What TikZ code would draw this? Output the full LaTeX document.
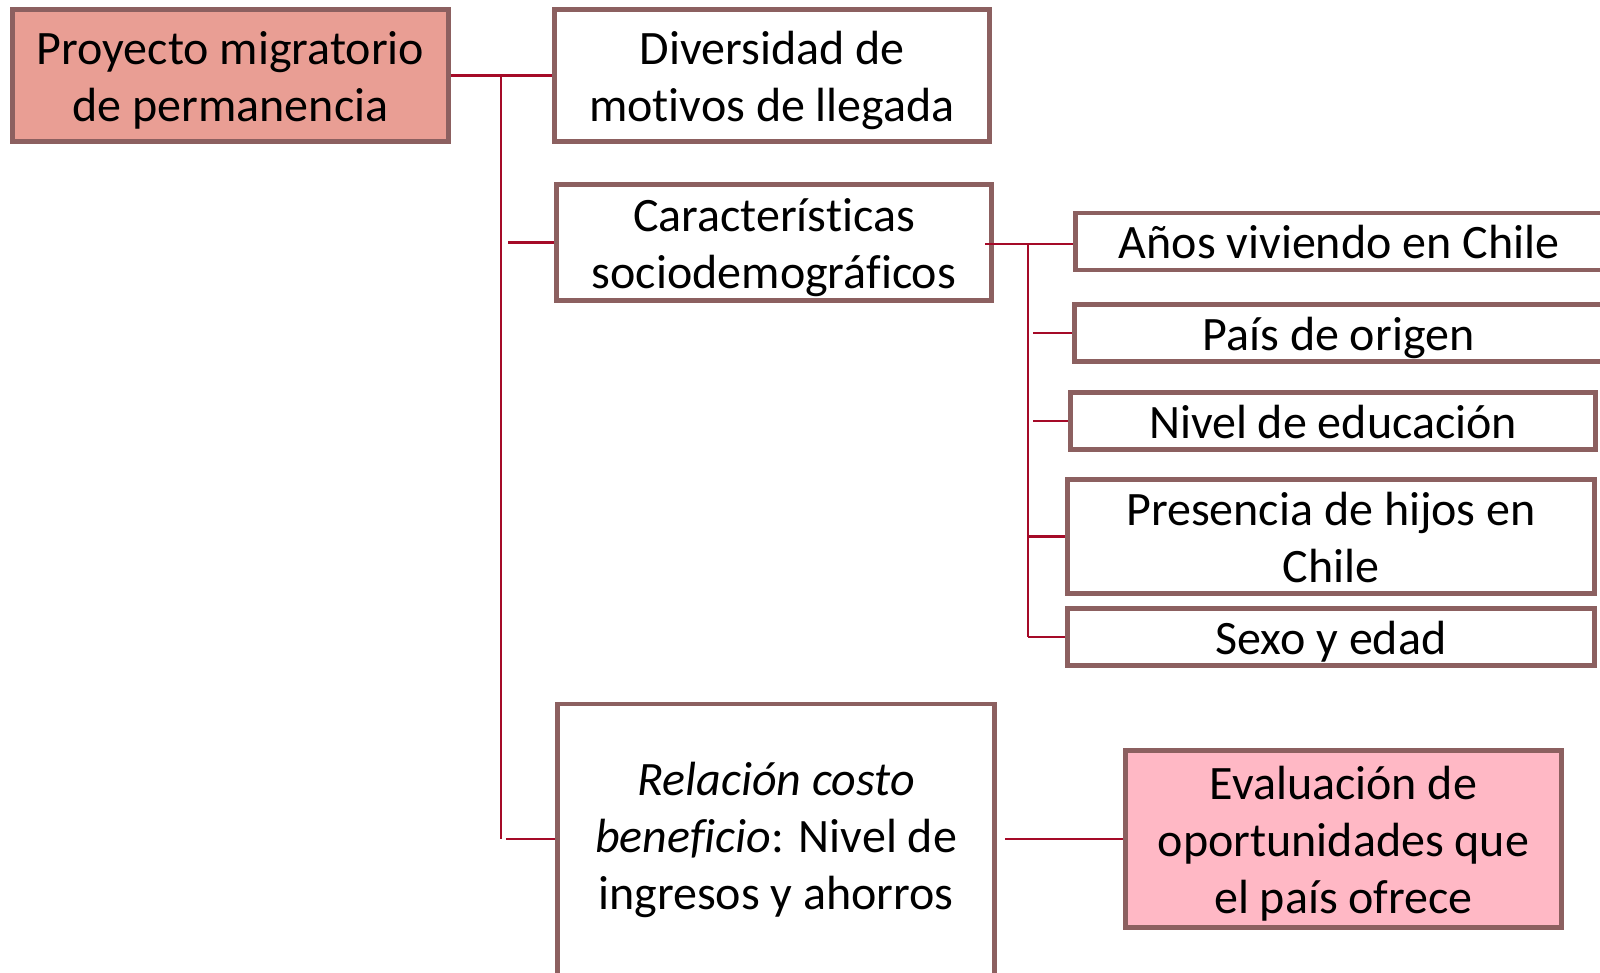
\documentclass[tikz,border=0pt]{standalone}
\usepackage{fontspec}
\setmainfont{Carlito}[Ligatures={NoCommon,NoRequired,NoContextual},RawFeature={-liga;-clig}]
\definecolor{bordc}{RGB}{140,96,96}
\definecolor{linec}{RGB}{165,10,40}
\definecolor{salmon}{RGB}{233,158,148}
\definecolor{pinkf}{RGB}{255,184,197}
\newcommand{\tx}[2][-6pt]{\raisebox{#1}[\height][\depth]{\begin{tabular}{@{}c@{}}#2\end{tabular}}}
\begin{document}
\begin{tikzpicture}[x=1pt,y=-1pt,
  box/.style={draw=bordc,line width=4.5pt,fill=white,inner sep=0pt,
    font=\fontsize{48}{57}\selectfont,rectangle},
  conn/.style={draw=linec,line width=2.5pt}]
\useasboundingbox (0,0) rectangle (1600,972);
\node[box,fill=salmon,minimum width=436pt,minimum height=132pt] (p) at (230.5,75.5) {\tx{Proyecto migratorio\\de permanencia}};
\node[box,minimum width=435pt,minimum height=132pt] (d) at (772,75.5) {\tx{Diversidad de\\motivos de llegada}};
\node[box,minimum width=435pt,minimum height=116pt] (c) at (774,242.5) {\tx{Características\\sociodemográficos}};
\node[box,minimum width=527pt,minimum height=56pt] (a) at (1339,241.5) {\tx{Años viviendo en Chile}};
\node[box,minimum width=528pt,minimum height=57pt] (pa) at (1338.5,333) {\tx{País de origen}};
\node[box,minimum width=525pt,minimum height=57pt] (n) at (1333,421) {\tx{Nivel de educación}};
\node[box,minimum width=527pt,minimum height=104pt] (pr) at (1331,536.5) {\tx{Presencia de hijos en\\Chile}};
\node[box,minimum width=527pt,minimum height=57pt] (s) at (1331,637) {\tx{Sexo y edad}};
\node[box,minimum width=437pt,minimum height=290pt] (r) at (776,849) {\tx[8pt]{\textit{Relación costo}\\\textit{beneficio}: Nivel de\\ingresos y ahorros}};
\node[box,fill=pinkf,minimum width=436pt,minimum height=177pt] (e) at (1343.5,839) {\tx{Evaluación de\\oportunidades que\\el país ofrece}};
% connectors level 1
\coordinate (v1top) at (501,74.5);
\coordinate (v1bot) at (501,839);
\coordinate (b1) at (508,242.5);
\coordinate (b2) at (506,839);
\draw[conn] (p.east) -- (d.west);
\draw[conn] (v1top) -- (v1bot);
\draw[conn] (b1) -- (c.west);
\draw[conn] (b2) -- (r.west |- b2);
\coordinate (rr) at (1005,839);
\draw[conn] (rr) -- (e.west);
% connectors level 2
\coordinate (cstart) at (985,244);
\coordinate (v2top) at (1028,244);
\coordinate (v2bot) at (1028,637);
\coordinate (b3) at (1033,333);
\coordinate (b4) at (1033,421);
\coordinate (b5) at (1028,536.5);
\draw[conn] (cstart) -- (a.west |- cstart);
\draw[conn] (v2top) -- (v2bot);
\draw[conn] (b3) -- (pa.west);
\draw[conn] (b4) -- (n.west);
\draw[conn] (b5) -- (pr.west);
\draw[conn] (v2bot) -- (s.west);
\end{tikzpicture}
\end{document}
